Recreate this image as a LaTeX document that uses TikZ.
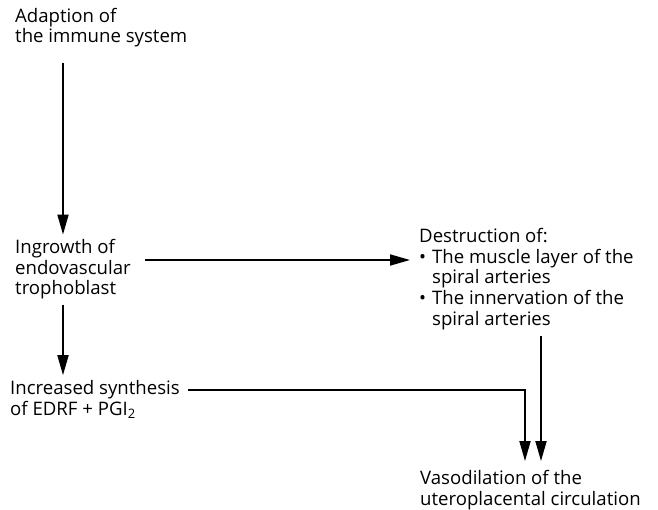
\documentclass[tikz,border=0pt]{standalone}
\usepackage{fontspec}
\setmainfont{Open Sans}
\usetikzlibrary{arrows.meta}
\newcommand{\blt}{\makebox[13pt][l]{\textbullet}}
\begin{document}
\begin{tikzpicture}[x=1pt, y=-1pt,
    txt/.style={anchor=base west, inner sep=0pt, align=left,
        font=\fontsize{18.6}{20.5}\selectfont},
    arr/.style={line width=1.8pt, -{Triangle[length=20pt, width=11pt]}}]
    \useasboundingbox (0,0) rectangle (658,510);

    % anchor is the baseline of the last line
    \node[txt] (adapt) at (15,43) {Adaption of\\the immune system};
    \node[txt] (ingrowth) at (15,295) {Ingrowth of\\endovascular\\trophoblast};
    \node[txt] (synth) at (10,415) {Increased synthesis\\of EDRF + PGI\textsubscript{2}};
    \node[txt] (destr) at (419,325) {Destruction of:\\
        \blt The muscle layer of the\\
        \hspace*{13pt}spiral arteries\\
        \blt The innervation of the\\
        \hspace*{13pt}spiral arteries};
    \node[txt] (vaso) at (420,505) {Vasodilation of the\\uteroplacental circulation};

    \coordinate (colA) at (63,0);
    \coordinate (colB) at (525,0);
    \coordinate (colC) at (541,0);
    \coordinate (rowA) at (0,260);
    \coordinate (rowB) at (0,390);

    \draw[arr] ([yshift=-15pt]colA |- adapt.south) -- ([yshift=5pt]colA |- ingrowth.north);
    \draw[arr] ([xshift=14pt]ingrowth.east |- rowA) -- ([xshift=-9pt]destr.west |- rowA);
    \draw[arr] ([yshift=-5pt]colA |- ingrowth.south) -- ([yshift=5pt]colA |- synth.north);
    \draw[arr] ([xshift=8pt]synth.east |- rowB) -| ([yshift=9pt]colB |- vaso.north);
    \draw[arr] ([yshift=-6pt]colC |- destr.south) -- ([yshift=9pt]colC |- vaso.north);
\end{tikzpicture}
\end{document}
